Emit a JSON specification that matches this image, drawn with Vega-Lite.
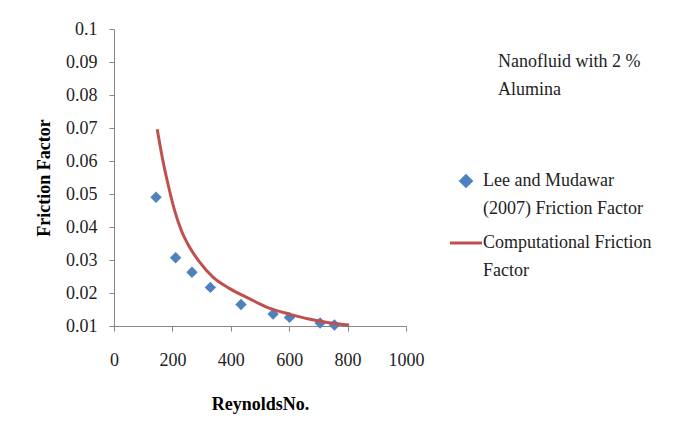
{
  "$schema": "https://vega.github.io/schema/vega-lite/v6.json",
  "width": 292,
  "height": 297,
  "autosize": {"type": "none"},
  "padding": {"left": 114, "top": 29, "right": 278, "bottom": 115},
  "background": "white",
  "config": {
    "view": {"stroke": null},
    "font": "Liberation Serif",
    "axis": {
      "grid": false,
      "labelFlush": false,
      "domainColor": "#868686",
      "tickColor": "#868686",
      "tickSize": 5,
      "labelFont": "Liberation Serif",
      "labelFontSize": 18,
      "labelColor": "#222222",
      "titleFont": "Liberation Serif",
      "titleFontSize": 18,
      "titleFontWeight": "bold",
      "titleColor": "#000000"
    }
  },
  "datasets": {
    "measured": [
      {"Re": 144, "f": 0.049, "series": "Lee and Mudawar (2007) Friction Factor"},
      {"Re": 211, "f": 0.0307, "series": "Lee and Mudawar (2007) Friction Factor"},
      {"Re": 267, "f": 0.0263, "series": "Lee and Mudawar (2007) Friction Factor"},
      {"Re": 330, "f": 0.0217, "series": "Lee and Mudawar (2007) Friction Factor"},
      {"Re": 435, "f": 0.0165, "series": "Lee and Mudawar (2007) Friction Factor"},
      {"Re": 545, "f": 0.0136, "series": "Lee and Mudawar (2007) Friction Factor"},
      {"Re": 601, "f": 0.0126, "series": "Lee and Mudawar (2007) Friction Factor"},
      {"Re": 706, "f": 0.0109, "series": "Lee and Mudawar (2007) Friction Factor"},
      {"Re": 755, "f": 0.0103, "series": "Lee and Mudawar (2007) Friction Factor"}
    ],
    "computed": [
      {"Re": 148, "f": 0.0696, "series": "Computational Friction Factor"},
      {"Re": 167, "f": 0.0603, "series": "Computational Friction Factor"},
      {"Re": 187, "f": 0.0522, "series": "Computational Friction Factor"},
      {"Re": 207, "f": 0.0452, "series": "Computational Friction Factor"},
      {"Re": 230, "f": 0.0391, "series": "Computational Friction Factor"},
      {"Re": 258, "f": 0.034, "series": "Computational Friction Factor"},
      {"Re": 292, "f": 0.0295, "series": "Computational Friction Factor"},
      {"Re": 338, "f": 0.0249, "series": "Computational Friction Factor"},
      {"Re": 395, "f": 0.0214, "series": "Computational Friction Factor"},
      {"Re": 463, "f": 0.0183, "series": "Computational Friction Factor"},
      {"Re": 532, "f": 0.0154, "series": "Computational Friction Factor"},
      {"Re": 600, "f": 0.0136, "series": "Computational Friction Factor"},
      {"Re": 668, "f": 0.0121, "series": "Computational Friction Factor"},
      {"Re": 737, "f": 0.011, "series": "Computational Friction Factor"},
      {"Re": 805, "f": 0.0103, "series": "Computational Friction Factor"}
    ]
  },
  "encoding": {
    "x": {
      "field": "Re", "type": "quantitative",
      "scale": {"domain": [0, 1000], "nice": false},
      "axis": {"values": [0, 200, 400, 600, 800, 1000], "format": "d", "title": "ReynoldsNo.", "labelPadding": 20, "titlePadding": 26}
    },
    "y": {
      "field": "f", "type": "quantitative",
      "scale": {"domain": [0.01, 0.1], "nice": false, "zero": false},
      "axis": {"values": [0.01, 0.02, 0.03, 0.04, 0.05, 0.06, 0.07, 0.08, 0.09, 0.1], "format": ".2~f", "title": "Friction Factor", "labelPadding": 12, "titlePadding": 12}
    },
    "color": {
      "field": "series", "type": "nominal",
      "scale": {"domain": ["Lee and Mudawar (2007) Friction Factor", "Computational Friction Factor"], "range": ["#4F81BD", "#C0504D"]},
      "legend": {
        "orient": "none",
        "legendX": 343,
        "legendY": 24,
        "padding": 0,
        "title": ["Nanofluid with 2 %", "Alumina"],
        "titleFont": "Liberation Serif",
        "titleFontSize": 18,
        "titleFontWeight": "normal",
        "titleColor": "#222222",
        "titleLineHeight": 28,
        "titlePadding": 73,
        "symbolSize": 1024,
        "labelFont": "Liberation Serif",
        "labelFontSize": 18,
        "labelColor": "#222222",
        "labelLimit": 400,
        "labelOffset": 8,
        "rowPadding": 16,
        "labelExpr": "datum.value == 'Computational Friction Factor' ? ['Computational Friction', 'Factor'] : ['Lee and Mudawar', '(2007) Friction Factor']",
        "encode": {
          "title": {"update": {"dx": {"value": 41}}},
          "labels": {"update": {"lineHeight": {"value": 28}}},
          "symbols": {"update": {
            "shape": {"signal": "datum.value == 'Computational Friction Factor' ? 'stroke' : 'diamond'"},
            "size": {"signal": "datum.value == 'Computational Friction Factor' ? 1024 : 110"},
            "fill": {"signal": "datum.value == 'Computational Friction Factor' ? 'transparent' : '#4F81BD'"},
            "stroke": {"signal": "datum.value == 'Computational Friction Factor' ? '#C0504D' : 'transparent'"},
            "strokeWidth": {"value": 3},
            "opacity": {"value": 1}
          }}
        }
      }
    }
  },
  "layer": [
    {
      "data": {"name": "measured"},
      "mark": {"type": "point", "shape": "diamond", "filled": true, "size": 130, "opacity": 1}
    },
    {
      "data": {"name": "computed"},
      "mark": {"type": "line", "strokeWidth": 3, "interpolate": "monotone"}
    }
  ]
}
